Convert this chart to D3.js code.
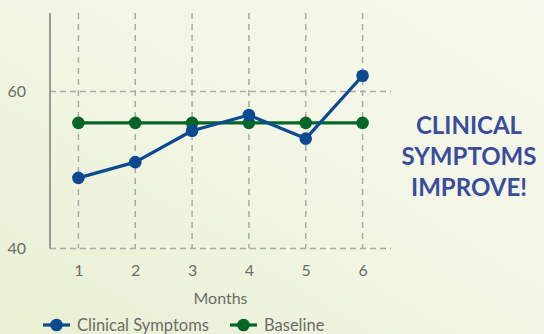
<!DOCTYPE html>
<html>
<head>
<meta charset="utf-8">
<script src="https://cdn.jsdelivr.net/npm/d3@7"></script>
<style>
  html, body { margin: 0; padding: 0; }
  body { width: 544px; height: 334px; overflow: hidden; }
  svg { display: block; font-family: Lato, "Open Sans", sans-serif; }
</style>
</head>
<body>
<svg id="chart" width="544" height="334"></svg>
<script>
// Monthly scores
const months = [1, 2, 3, 4, 5, 6];
const clinicalSymptoms = [49, 51, 55, 57, 54, 62];
const baseline = [56, 56, 56, 56, 56, 56];
const yTicks = [40, 60];
const seriesNames = ["Clinical Symptoms", "Baseline"];
const seriesColors = ["#0b4a91", "#05662a"];
const headline = ["CLINICAL", "SYMPTOMS", "IMPROVE!"];

const svg = d3.select("#chart");

// Soft cream-to-green background
const defs = svg.append("defs");
const bg = defs.append("linearGradient").attr("id", "bg")
  .attr("x1", "0%").attr("y1", "100%").attr("x2", "100%").attr("y2", "0%");
bg.append("stop").attr("offset", "0%").attr("stop-color", "#e8f0d3");
bg.append("stop").attr("offset", "45%").attr("stop-color", "#f1f5e2");
bg.append("stop").attr("offset", "100%").attr("stop-color", "#f8f9ee");
svg.append("rect").attr("width", 544).attr("height", 334).attr("fill", "url(#bg)");

const plotLeft = 50, plotRight = 391, plotTop = 13, plotBottom = 248.5;
const x = d3.scaleLinear().domain([0.5, 6.5]).range([plotLeft, plotRight]);
const y = d3.scaleLinear().domain([40, 70]).range([plotBottom, plotTop]);

const gridColor = "#a9aba4";
const textColor = "#6b6d69";

// Vertical dashed gridlines at each month
svg.append("g").selectAll("line").data(months).join("line")
  .attr("x1", d => x(d)).attr("x2", d => x(d))
  .attr("y1", plotTop).attr("y2", plotBottom)
  .attr("stroke", gridColor).attr("stroke-width", 1.5)
  .attr("stroke-dasharray", "6,5");

// Horizontal dashed gridlines (including the bottom axis)
svg.append("g").selectAll("line").data(yTicks).join("line")
  .attr("x1", plotLeft).attr("x2", plotRight)
  .attr("y1", d => y(d)).attr("y2", d => y(d))
  .attr("stroke", gridColor).attr("stroke-width", 1.5)
  .attr("stroke-dasharray", "6,4");

// Solid y axis line
svg.append("line")
  .attr("x1", plotLeft).attr("x2", plotLeft).attr("y1", plotTop).attr("y2", plotBottom)
  .attr("stroke", "#7a7c78").attr("stroke-width", 1.5);

// Y axis tick labels
const yAxis = d3.axisLeft(y).tickValues(yTicks).tickSize(0).tickPadding(24);
const yg = svg.append("g").attr("transform", `translate(${plotLeft},0)`).call(yAxis);
yg.select(".domain").remove();
yg.selectAll("text").attr("fill", textColor).attr("font-size", 16)
  .attr("font-family", "Lato, sans-serif");

// X axis tick labels
const xAxis = d3.axisBottom(x).tickValues(months).tickSize(0).tickPadding(16)
  .tickFormat(d3.format("d"));
const xg = svg.append("g").attr("transform", `translate(0,${plotBottom})`).call(xAxis);
xg.select(".domain").remove();
xg.selectAll("text").attr("fill", textColor).attr("font-size", 16)
  .attr("font-family", "Lato, sans-serif");

// X axis title
svg.append("text")
  .attr("x", (plotLeft + plotRight) / 2).attr("y", 304)
  .attr("text-anchor", "middle").attr("fill", textColor)
  .attr("font-size", 16).text("Months");

// Series lines and markers
const line = d3.line().x((d, i) => x(months[i])).y(d => y(d));
const series = [baseline, clinicalSymptoms];
const colorsFor = [seriesColors[1], seriesColors[0]];
series.forEach((vals, k) => {
  const g = svg.append("g");
  g.append("path").datum(vals).attr("d", line)
    .attr("fill", "none").attr("stroke", colorsFor[k]).attr("stroke-width", 3.2)
    .attr("stroke-linejoin", "round");
  g.selectAll("circle").data(vals).join("circle")
    .attr("cx", (d, i) => x(months[i])).attr("cy", d => y(d))
    .attr("r", 6.3).attr("fill", colorsFor[k]);
});

// Legend
const legendItems = [
  { name: seriesNames[0], color: seriesColors[0], x: 43 },
  { name: seriesNames[1], color: seriesColors[1], x: 230 }
];
const lg = svg.append("g").selectAll("g").data(legendItems).join("g")
  .attr("transform", d => `translate(${d.x},325)`);
lg.append("line").attr("x1", 0).attr("x2", 27).attr("y1", 0).attr("y2", 0)
  .attr("stroke", d => d.color).attr("stroke-width", 3.2);
lg.append("circle").attr("cx", 13.5).attr("cy", 0).attr("r", 6.3)
  .attr("fill", d => d.color);
lg.append("text").attr("x", 34).attr("y", 6)
  .attr("fill", textColor).attr("font-size", 16.5).text(d => d.name);

// Headline callout
svg.append("g").selectAll("text").data(headline).join("text")
  .attr("x", 469).attr("y", (d, i) => 133.5 + i * 31)
  .attr("text-anchor", "middle").attr("fill", "#3a4c9c")
  .attr("font-size", 24).attr("font-weight", 700)
  .attr("font-family", "Lato, sans-serif")
  .text(d => d);
</script>
</body>
</html>
